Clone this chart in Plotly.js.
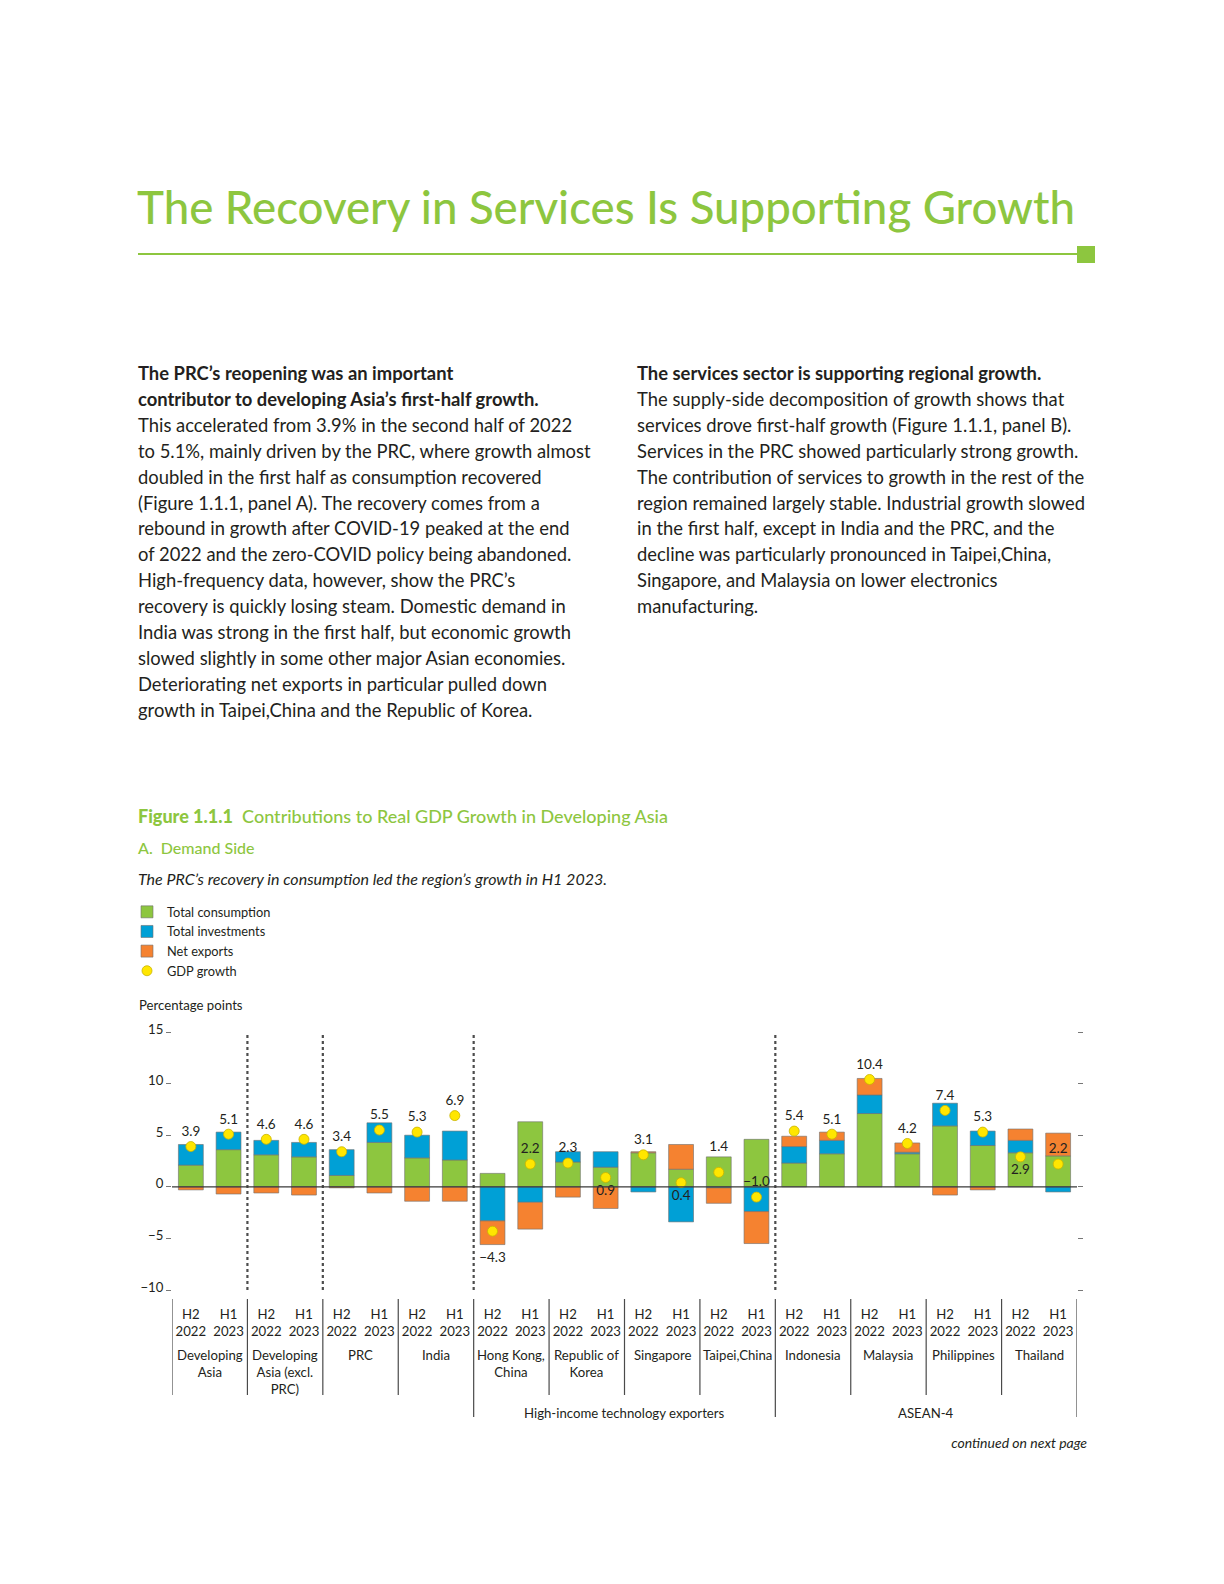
<!DOCTYPE html>
<html>
<head>
<meta charset="utf-8">
<script src="https://cdn.plot.ly/plotly-3.0.1.min.js"></script>
<style>
  html, body { margin: 0; padding: 0; background: #fff; }
  #page { position: relative; width: 1224px; height: 1584px; overflow: hidden; font-family: Lato, "Open Sans", sans-serif; color: #231f20; }
  .abs { position: absolute; white-space: nowrap; }
  #title { left: 137px; top: 184px; font-size: 45.6px; line-height: 45px; font-weight: 500; color: #8dc63f; }
  #rule { left: 138px; top: 253px; width: 940px; height: 2px; background: #8dc63f; }
  #sq { left: 1077px; top: 246px; width: 18px; height: 17px; background: #8dc63f; }
  .col { font-size: 18.4px; line-height: 25.9px; top: 361px; }
  .col b { font-weight: 700; }
  #colL { left: 138px; }
  #colR { left: 637px; }
  #figt { left: 138px; top: 805px; font-size: 18px; line-height: 22px; color: #8dc63f; font-weight: 500; }
  #figt b { font-weight: 900; }
  #sub { left: 138px; top: 838px; font-size: 16px; line-height: 20px; color: #8dc63f; font-weight: 500; }
  #note { left: 138px; top: 869px; font-size: 16px; line-height: 20px; font-style: italic; }
  #cont { right: 137px; top: 1433px; font-size: 14px; line-height: 20px; font-style: italic; }
  #chart { position: absolute; left: 0; top: 890px; width: 1224px; height: 570px; }
</style>
</head>
<body>
<div id="page">
  <div id="title" class="abs">The Recovery in Services Is Supporting Growth</div>
  <div id="rule" class="abs"></div>
  <div id="sq" class="abs"></div>
  <div id="colL" class="abs col"><b>The PRC’s reopening was an important<br>contributor to developing Asia’s first-half growth.</b><br>This accelerated from 3.9% in the second half of 2022<br>to 5.1%, mainly driven by the PRC, where growth almost<br>doubled in the first half as consumption recovered<br>(Figure 1.1.1, panel A). The recovery comes from a<br>rebound in growth after COVID-19 peaked at the end<br>of 2022 and the zero-COVID policy being abandoned.<br>High-frequency data, however, show the PRC’s<br>recovery is quickly losing steam. Domestic demand in<br>India was strong in the first half, but economic growth<br>slowed slightly in some other major Asian economies.<br>Deteriorating net exports in particular pulled down<br>growth in Taipei,China and the Republic of Korea.</div>
  <div id="colR" class="abs col"><b>The services sector is supporting regional growth.</b><br>The supply-side decomposition of growth shows that<br>services drove first-half growth (Figure 1.1.1, panel B).<br>Services in the PRC showed particularly strong growth.<br>The contribution of services to growth in the rest of the<br>region remained largely stable. Industrial growth slowed<br>in the first half, except in India and the PRC, and the<br>decline was particularly pronounced in Taipei,China,<br>Singapore, and Malaysia on lower electronics<br>manufacturing.</div>
  <div id="figt" class="abs"><b>Figure 1.1.1</b>&nbsp; Contributions to Real GDP Growth in Developing Asia</div>
  <div id="sub" class="abs">A.&nbsp; Demand Side</div>
  <div id="note" class="abs">The PRC’s recovery in consumption led the region’s growth in H1 2023.</div>
  <div id="chart"></div>
  <div id="cont" class="abs">continued on next page</div>
</div>
<script>
// ---------------- data ----------------
const countries = ["Developing Asia", "Developing Asia (excl. PRC)", "PRC", "India",
  "Hong Kong, China", "Republic of Korea", "Singapore", "Taipei,China",
  "Indonesia", "Malaysia", "Philippines", "Thailand"];
const countryLabels = ["Developing<br>Asia", "Developing<br>Asia (excl.<br>PRC)", "PRC", "India",
  "Hong Kong,<br>China", "Republic of<br>Korea", "Singapore", "Taipei,China",
  "Indonesia", "Malaysia", "Philippines", "Thailand"];
const periods = ["H2 2022", "H1 2023"];
const periodLabels = ["H2<br>2022", "H1<br>2023"];
const groupNames = ["High-income technology exporters", "ASEAN-4"];
const groupFirst = [4, 8];   // first country index of each group
const groupLast = [7, 11];   // last country index of each group

// order: each country H2 2022, H1 2023
const consumption = [2.1, 3.6, 3.1, 2.9, 1.1, 4.3, 2.8, 2.6, 1.3, 6.3, 2.4, 1.9,
                     3.3, 1.7, 2.9, 4.6, 2.3, 3.2, 7.1, 3.2, 5.9, 4.0, 3.3, 3.0];
const investment  = [2.0, 1.7, 1.4, 1.4, 2.5, 1.9, 2.2, 2.8, -3.3, -1.5, 1.0, 1.5,
                     -0.5, -3.4, -0.1, -2.4, 1.6, 1.3, 1.8, 0.15, 2.2, 1.4, 1.2, -0.5];
const netExports  = [-0.3, -0.7, -0.6, -0.8, -0.1, -0.6, -1.4, -1.4, -2.3, -2.6, -1.0, -2.1,
                     0.1, 2.4, -1.5, -3.1, 1.0, 0.8, 1.6, 0.9, -0.8, -0.3, 1.1, 2.2];
const gdpGrowth   = [3.9, 5.1, 4.6, 4.6, 3.4, 5.5, 5.3, 6.9, -4.3, 2.2, 2.3, 0.9,
                     3.1, 0.4, 1.4, -1.0, 5.4, 5.1, 10.4, 4.2, 7.4, 5.3, 2.9, 2.2];
// where each GDP label sits: above/below its dot, or above/below the end of the bar
const labelSide   = ["above", "above", "above", "above", "above", "above", "above", "above",
                     "belowBar", "above", "above", "below",
                     "above", "below", "aboveBar", "above", "above", "above", "above", "above",
                     "above", "above", "below", "above"];
const yTicks = [-10, -5, 0, 5, 10, 15];

// ---------------- build ----------------
const cats = [];
const tickText = [];
countries.forEach(c => periods.forEach((p, j) => { cats.push(c + " | " + p); tickText.push(periodLabels[j]); }));

const colors = { c: "#8dc63f", i: "#00a0d6", n: "#f58230", dot: "#ffe600" };
const barLine = { color: "rgba(110,110,110,0.75)", width: 0.8 };
const font = "Lato, 'Open Sans', sans-serif";
const txt = "#231f20";

// label anchors derived from the data
const parts = k => [consumption[k], investment[k], netExports[k]];
const negStack = cats.map((_, k) => parts(k).filter(v => v < 0).reduce((a, b) => a + b, 0));
const posStack = cats.map((_, k) => parts(k).filter(v => v > 0).reduce((a, b) => a + b, 0));
const labelY = gdpGrowth.map((g, k) => labelSide[k] === "belowBar" ? Math.min(g, negStack[k])
  : labelSide[k] === "aboveBar" ? Math.max(g, posStack[k]) - 0.5 : g);
const labelPos = labelSide.map(s => s.indexOf("above") === 0 ? "top center" : "bottom center");

const traces = [
  { type: "bar", name: "Total consumption", x: cats, y: consumption, marker: { color: colors.c, line: barLine } },
  { type: "bar", name: "Total investments", x: cats, y: investment, marker: { color: colors.i, line: barLine } },
  { type: "bar", name: "Net exports", x: cats, y: netExports, marker: { color: colors.n, line: barLine } },
  { type: "scatter", mode: "markers", name: "GDP growth", x: cats, y: gdpGrowth,
    marker: { color: colors.dot, size: 10, line: { color: "#c9b400", width: 0.8 } }, cliponaxis: false },
  { type: "scatter", mode: "markers+text", name: "GDP growth labels", showlegend: false, x: cats, y: labelY,
    marker: { size: 10, opacity: 0 },
    text: gdpGrowth.map(v => v.toFixed(1).replace("-", "\u2212")),
    textposition: labelPos,
    textfont: { family: font, size: 13.5, color: txt },
    cliponaxis: false }
];

// page-pixel helpers for the chart div
const divTop = 890, plotL = 172, plotR = 1077, plotT = 1032, plotB = 1290;
const px = x => (x - plotL) / (plotR - plotL);
const py = y => (plotB - y) / (plotB - plotT);

const shapes = [];
// dotted separators inside the plot
[1.5, 3.5, 7.5, 15.5].forEach(x => shapes.push({ type: "line", xref: "x", yref: "paper", x0: x, x1: x, y0: 0, y1: 1,
  line: { color: "#4d4d4d", width: 2.2, dash: "3px,3px" }, layer: "above" }));
// solid separators below the axis
for (let k = 0; k <= countries.length; k++) {
  const x = 2 * k - 0.5;
  const isGroupEdge = (k === groupFirst[0] || k === groupFirst[1] || k === countries.length);
  shapes.push({ type: "line", xref: "x", yref: "paper", x0: x, x1: x, y0: py(1299), y1: py(isGroupEdge ? 1417 : 1395),
    line: { color: "#4a4a4a", width: 1.2 } });
}
// zero line on top of bars
shapes.push({ type: "line", xref: "paper", yref: "y", x0: 0, x1: 1, y0: 0, y1: 0, line: { color: "#3a3a3a", width: 1.3 }, layer: "above" });

const annotations = [];
countryLabels.forEach((lab, k) => annotations.push({ xref: "x", yref: "paper", x: 2 * k + 0.5, y: py(1345),
  yanchor: "top", xanchor: "center", text: lab, showarrow: false, font: { family: font, size: 13.2, color: txt } }));
groupNames.forEach((g, i) => annotations.push({ xref: "x", yref: "paper", x: (2 * groupFirst[i] + 2 * groupLast[i] + 1) / 2,
  y: py(1413), yanchor: "middle", xanchor: "center", text: g, showarrow: false, font: { family: font, size: 13.2, color: txt } }));
annotations.push({ xref: "paper", yref: "paper", x: px(137), y: py(1005), xanchor: "left", yanchor: "middle",
  text: "Percentage points", showarrow: false, font: { family: font, size: 13.2, color: txt } });

const layout = {
  width: 1224, height: 570,
  margin: { l: plotL, r: 1224 - plotR, t: plotT - divTop, b: 570 - (plotB - divTop), autoexpand: false },
  paper_bgcolor: "rgba(0,0,0,0)", plot_bgcolor: "rgba(0,0,0,0)",
  barmode: "relative", bargap: 0.34,
  font: { family: font, size: 13.2, color: txt },
  showlegend: true,
  legend: { xref: "container", yref: "container", x: 127 / 1224, y: 1 - (897 - divTop) / 570, xanchor: "left", yanchor: "top",
    font: { family: font, size: 12.8, color: txt }, bgcolor: "rgba(0,0,0,0)", itemwidth: 30, tracegroupgap: 0 },
  xaxis: { type: "category", categoryorder: "array", categoryarray: cats, tickvals: cats, ticktext: tickText,
    range: [-0.5, cats.length - 0.5], showgrid: false, zeroline: false, showline: false, ticks: "", tickangle: 0,
    ticklabelstandoff: 15, tickfont: { family: font, size: 13.2, color: txt } },
  yaxis: { range: [-10, 15], tickvals: yTicks, showgrid: false, zeroline: false, showline: false,
    ticks: "outside", ticklen: 5, tickcolor: "#777", tickwidth: 1, mirror: "ticks", ticklabelshift: -3,
    tickfont: { family: font, size: 13.2, color: txt } },
  shapes: shapes, annotations: annotations
};

Plotly.newPlot("chart", traces, layout, { staticPlot: true, displayModeBar: false });
</script>
</body>
</html>
